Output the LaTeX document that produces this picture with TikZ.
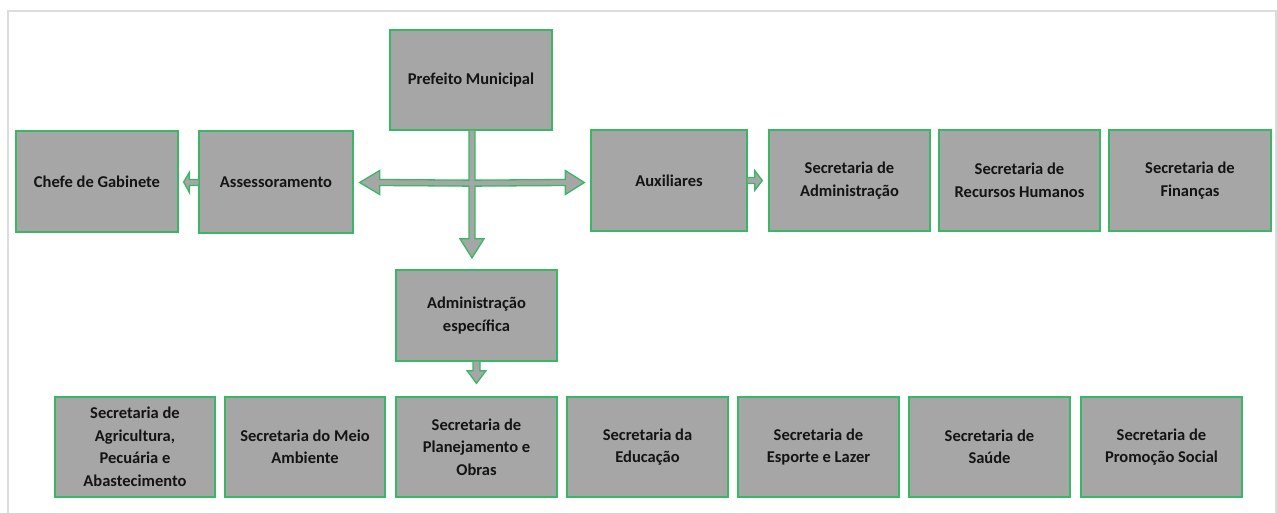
\documentclass[tikz,border=0pt]{standalone}
\usepackage{fontspec}
\setmainfont{Carlito}
\usetikzlibrary{calc}
\definecolor{boxfill}{HTML}{A6A6A6}
\definecolor{boxline}{RGB}{56,184,100}
\definecolor{frameline}{HTML}{DCDCDC}
\definecolor{txt}{HTML}{141414}
\begin{document}
\begin{tikzpicture}[x=1pt,y=-1pt,
  orgbox/.style={draw=boxline, line width=1.3pt, fill=boxfill, text=txt,
    inner sep=2pt, align=center, font=\bfseries\fontsize{16.5}{22.5}\selectfont},
  blockarrow/.style={draw=boxline, line width=1.3pt, fill=boxfill, line join=miter}]
\useasboundingbox (0,0) rectangle (1277,513);
\draw[frameline, line width=2pt] (8,513) -- (8,11) -- (1276,11) -- (1276,513);
% boxes: (center) width height
\newcommand{\obox}[6]{\node[orgbox, minimum width=#4pt, minimum height=#5pt] (#1) at (#2,#3) {#6};}
\obox{pref}{471}{80}{162}{100}{Prefeito Municipal}
\obox{chefe}{97}{181.5}{162}{101}{Chefe de Gabinete}
\obox{assess}{276}{182}{154}{102}{Assessoramento}
\obox{aux}{669}{180.5}{156}{101}{Auxiliares}
\obox{sadm}{849.5}{180.5}{161}{101}{Secretaria de\\Administração}
\obox{srh}{1019.5}{180.5}{161}{101}{Secretaria de\\Recursos Humanos}
\obox{sfin}{1190}{180.5}{162}{101}{Secretaria de\\Finanças}
\obox{adesp}{476.5}{315.5}{161}{91}{Administração\\específica}
\obox{sagr}{135}{447}{160}{100}{Secretaria de\\Agricultura,\\Pecuária e\\Abastecimento}
\obox{smeio}{305}{447}{160}{100}{Secretaria do Meio\\Ambiente}
\obox{splan}{476.5}{447}{161}{100}{Secretaria de\\Planejamento e\\Obras}
\obox{sedu}{647.5}{447}{161}{100}{Secretaria da\\Educação}
\obox{sesp}{818.5}{447}{161}{100}{Secretaria de\\Esporte e Lazer}
\obox{ssau}{989.5}{447}{161}{100}{Secretaria de\\Saúde}
\obox{sprom}{1161.5}{447}{161}{100}{Secretaria de\\Promoção Social}
% central cross arrow from Prefeito
\coordinate (c) at ($(pref.south)+(1,52.5)$);
\draw[blockarrow]
  ($(pref.south)+(-2,0)$) -- ($(c)+(-3,-3)$) -- ($(assess.east)+(26,-2.5)$)
  -- ($(assess.east)+(26,-11.5)$) -- ($(assess.east)+(6,0.5)$)
  -- ($(assess.east)+(26,12.5)$) -- ($(assess.east)+(26,3.5)$)
  -- ($(c)+(-3,3)$) -- ($(adesp.north)+(-7.5,-30.5)$)
  -- ($(adesp.north)+(-16.5,-30.5)$) -- ($(adesp.north)+(-4.5,-11.5)$)
  -- ($(adesp.north)+(7.5,-30.5)$) -- ($(adesp.north)+(-1.5,-30.5)$)
  -- ($(c)+(3,3)$) -- ($(aux.west)+(-25,5)$)
  -- ($(aux.west)+(-25,14)$) -- ($(aux.west)+(-6,2)$)
  -- ($(aux.west)+(-25,-10)$) -- ($(aux.west)+(-25,-1)$)
  -- ($(c)+(3,-3)$) -- ($(pref.south)+(4,0)$);
% small arrow Assessoramento -> Chefe
\draw[blockarrow]
  ($(assess.west)+(0,-2.5)$) -- ($(assess.west)+(-9,-2.5)$) -- ($(assess.west)+(-9,-9.5)$)
  -- ($(chefe.east)+(5,0.5)$) -- ($(assess.west)+(-9,10.5)$) -- ($(assess.west)+(-9,3.5)$)
  -- ($(assess.west)+(0,3.5)$);
% small arrow Auxiliares -> Sec. Administracao
\draw[blockarrow]
  ($(aux.east)+(0,-3)$) -- ($(aux.east)+(7,-3)$) -- ($(aux.east)+(7,-10)$)
  -- ($(sadm.west)+(-6,0)$) -- ($(aux.east)+(7,10)$) -- ($(aux.east)+(7,3)$)
  -- ($(aux.east)+(0,3)$);
% small arrow Administracao especifica -> bottom row
\draw[blockarrow]
  ($(adesp.south)+(-3.5,0)$) -- ($(adesp.south)+(-3.5,9)$) -- ($(adesp.south)+(-9.5,9)$)
  -- ($(splan.north)+(0,-13)$) -- ($(adesp.south)+(9.5,9)$) -- ($(adesp.south)+(3.5,9)$)
  -- ($(adesp.south)+(3.5,0)$);
\end{tikzpicture}
\end{document}
